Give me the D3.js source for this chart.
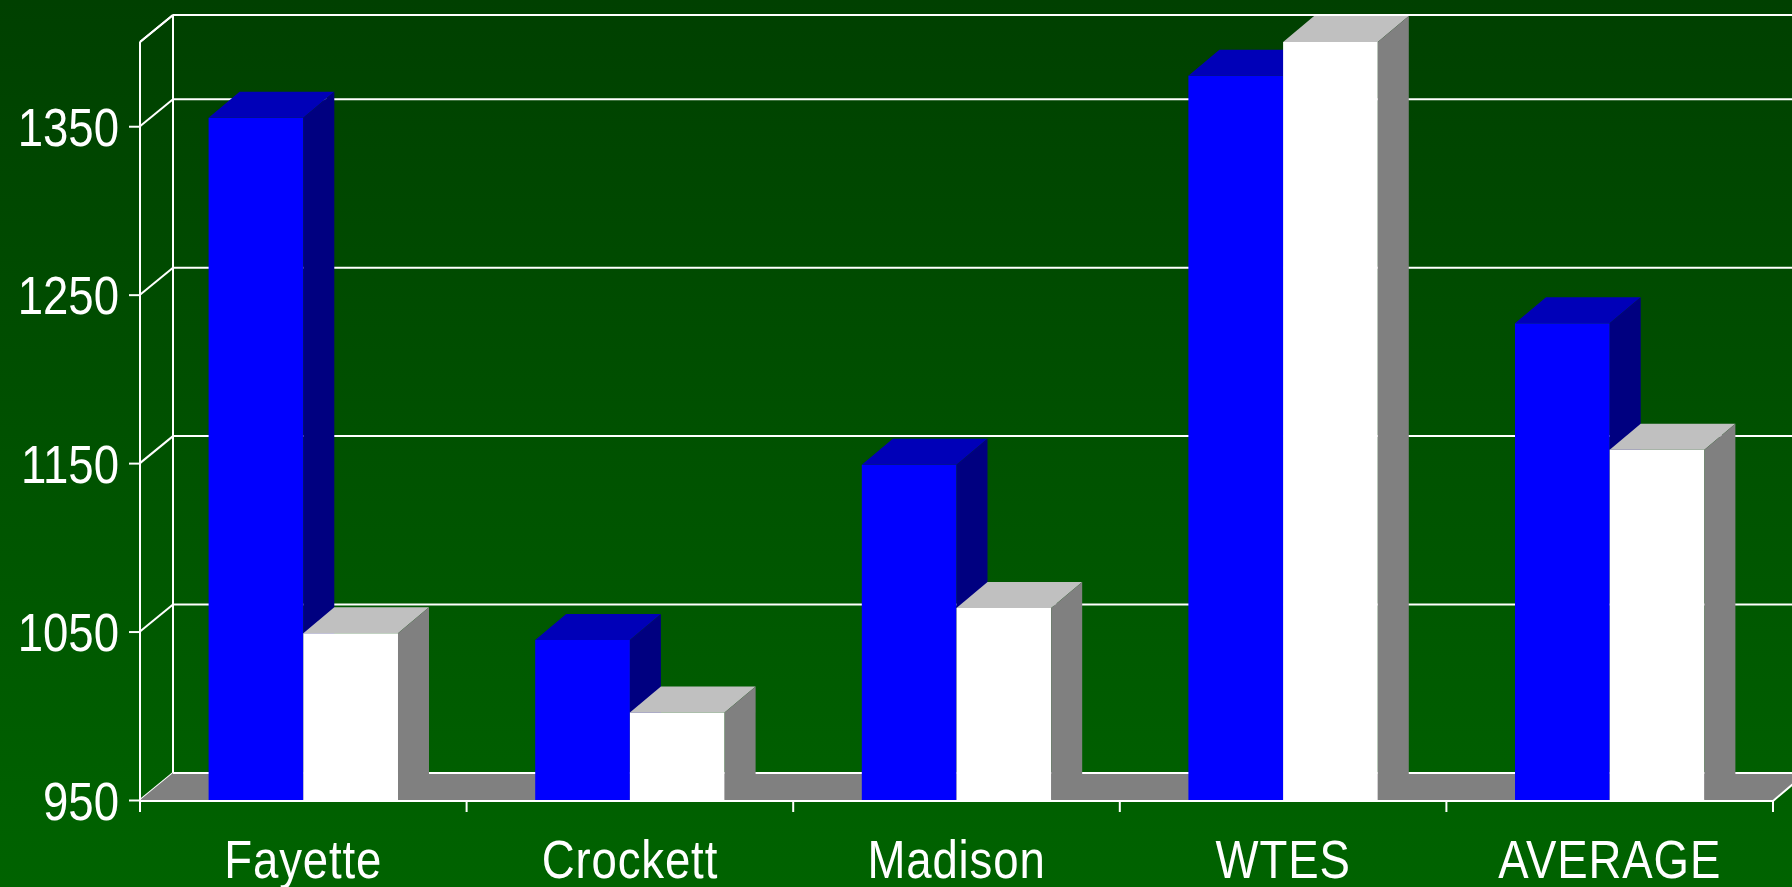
<!DOCTYPE html>
<html>
<head>
<meta charset="utf-8">
<script src="https://cdn.jsdelivr.net/npm/d3@7"></script>
<style>
  html, body { margin: 0; padding: 0; background: #004000; overflow: hidden; }
  svg { display: block; }
  text { font-family: 'Liberation Sans', Arial, sans-serif; fill: #fff; }
</style>
</head>
<body>
<div id="chart"></div>
<script>
const categories = ['Fayette', 'Crockett', 'Madison', 'WTES', 'AVERAGE']
const seriesNames = ['Series 1', 'Series 2']
const series1 = [1355, 1045, 1149, 1380, 1233]
const series2 = [1049, 1002, 1064, 1400, 1158]
const yTicks = [950, 1050, 1150, 1250, 1350]
const yDomain = [950, 1400]

const width = 1792
const height = 887
const plot = { left: 140, right: 1773, top: 42, bottom: 800 }
const wall = { dx: 33, dy: -27 }
const bar = { dx: 31, dy: -26 }
const narrow = 0.86 // squeeze text to look like a condensed face
const faceColors = [
    { front: '#0000ff', top: '#0000b8', side: '#000080' },
    { front: '#ffffff', top: '#c0c0c0', side: '#808080' }
]

const svg = d3.select('#chart').append('svg')
    .attr('width', width)
    .attr('height', height)

const grad = svg.append('defs').append('linearGradient')
    .attr('id', 'bg').attr('x1', 0).attr('y1', 0).attr('x2', 0).attr('y2', 1)
grad.append('stop').attr('offset', '0%').attr('stop-color', '#004000')
grad.append('stop').attr('offset', '100%').attr('stop-color', '#006300')

svg.append('rect').attr('width', width).attr('height', height).attr('fill', 'url(#bg)')

const y = d3.scaleLinear().domain(yDomain).range([plot.bottom, plot.top]).clamp(true)
const x = d3.scaleBand().domain(categories).range([plot.left, plot.right]).padding(0)
const xs = d3.scaleBand().domain(seriesNames).range([0, x.bandwidth()]).paddingInner(0).paddingOuter(0.7245)

const gridValues = yTicks.concat([yDomain[1]])
const white = (sel) => sel.attr('stroke', '#fff').attr('stroke-width', 2).attr('fill', 'none')

// back wall + left wall lines
const grid = svg.append('g')
grid.selectAll('.back').data(gridValues).enter().append('line')
    .attr('x1', plot.left + wall.dx).attr('x2', plot.right + wall.dx)
    .attr('y1', d => y(d) + wall.dy).attr('y2', d => y(d) + wall.dy)
    .call(white)
grid.selectAll('.side').data(gridValues).enter().append('line')
    .attr('x1', plot.left).attr('x2', plot.left + wall.dx)
    .attr('y1', d => y(d)).attr('y2', d => y(d) + wall.dy)
    .call(white)
grid.append('line')
    .attr('x1', plot.left + wall.dx).attr('x2', plot.left + wall.dx)
    .attr('y1', y(yDomain[1]) + wall.dy).attr('y2', y(yDomain[0]) + wall.dy)
    .call(white)

// floor
const y0 = y(yDomain[0])
svg.append('path')
    .attr('d', d3.line()([
        [plot.left, y0], [plot.right, y0],
        [plot.right + wall.dx, y0 + wall.dy], [plot.left + wall.dx, y0 + wall.dy]
    ]) + 'Z')
    .attr('fill', '#808080')
svg.append('line')
    .attr('x1', plot.left + wall.dx).attr('x2', plot.right + wall.dx)
    .attr('y1', y0 + wall.dy).attr('y2', y0 + wall.dy)
    .call(white)

// bars
const rows = categories.map((c, i) => ({ cat: c, vals: [series1[i], series2[i]] }))
const groups = svg.selectAll('.grp').data(rows).enter().append('g')
    .attr('transform', d => `translate(${x(d.cat)},0)`)

const bars = groups.selectAll('.bar')
    .data(d => d.vals.map((v, k) => ({ v: v, s: seriesNames[k], k: k })))
    .enter().append('g')

bars.append('rect')
    .attr('x', d => xs(d.s))
    .attr('y', d => y(d.v))
    .attr('width', xs.bandwidth())
    .attr('height', d => y0 - y(d.v))
    .attr('fill', d => faceColors[d.k].front)

bars.append('path')
    .attr('d', d => {
        const x1 = xs(d.s), x2 = x1 + xs.bandwidth(), t = y(d.v)
        return d3.line()([[x1, t], [x1 + bar.dx, t + bar.dy], [x2 + bar.dx, t + bar.dy], [x2, t]]) + 'Z'
    })
    .attr('fill', d => faceColors[d.k].top)

bars.append('path')
    .attr('d', d => {
        const x2 = xs(d.s) + xs.bandwidth(), t = y(d.v)
        return d3.line()([[x2, t], [x2 + bar.dx, t + bar.dy], [x2 + bar.dx, y0 + bar.dy], [x2, y0]]) + 'Z'
    })
    .attr('fill', d => faceColors[d.k].side)

// front axes
svg.append('path')
    .attr('d', d3.line()([[plot.right + wall.dx, y0 + wall.dy], [plot.right, y0 + 1], [plot.left, y0 + 1]]))
    .call(white)
svg.append('line')
    .attr('x1', plot.left).attr('x2', plot.left + wall.dx)
    .attr('y1', y(yDomain[1])).attr('y2', y(yDomain[1]) + wall.dy)
    .call(white)

const yAxis = svg.append('g')
    .attr('transform', `translate(${plot.left},0)`)
    .call(d3.axisLeft(y).tickValues(yTicks).tickFormat(d3.format('d'))
        .tickSize(11).tickPadding(10).tickSizeOuter(0))
yAxis.attr('font-family', null).attr('font-size', null)
yAxis.select('.domain').attr('stroke', '#fff').attr('stroke-width', 2)
    .attr('d', `M0,${plot.top}V${y0 + 12}`)
yAxis.selectAll('.tick line').attr('stroke', '#fff').attr('stroke-width', 2)
yAxis.selectAll('.tick text')
    .attr('fill', '#fff').attr('font-size', 53).attr('dy', '0.36em')
    .attr('x', -21 / narrow)
    .attr('transform', `scale(${narrow},1)`)

const xAxis = svg.append('g')
    .attr('transform', `translate(0,${y0})`)
    .call(d3.axisBottom(x).tickSize(0).tickPadding(0))
xAxis.attr('font-family', null).attr('font-size', null)
xAxis.select('.domain').remove()
xAxis.selectAll('.tick text')
    .attr('fill', '#fff').attr('font-size', 53).attr('dy', null).attr('y', 78)
    .attr('letter-spacing', 1)
    .attr('transform', `scale(${narrow},1)`)

svg.append('g').selectAll('line')
    .data(categories.map(c => x(c) + x.bandwidth()))
    .enter().append('line')
    .attr('x1', d => d).attr('x2', d => d)
    .attr('y1', y0).attr('y2', y0 + 12)
    .call(white)
</script>
</body>
</html>
